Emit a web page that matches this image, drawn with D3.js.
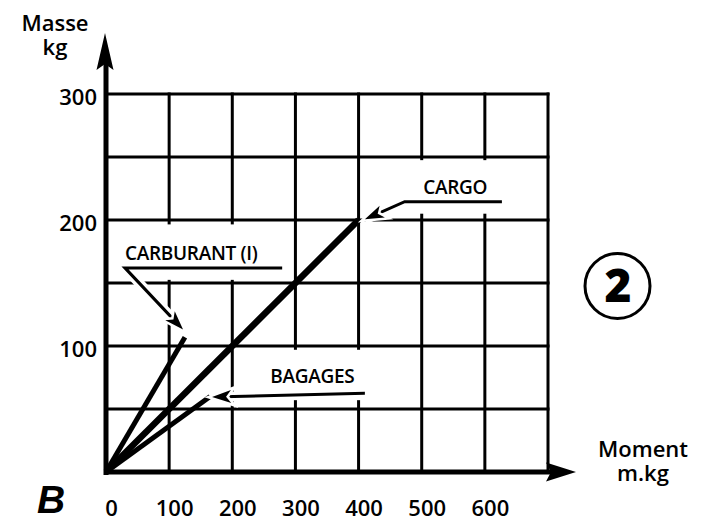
<!DOCTYPE html>
<html>
<head>
<meta charset="utf-8">
<script src="https://cdn.jsdelivr.net/npm/d3@7"></script>
<style>
  html, body { margin: 0; padding: 0; background: #fff; }
  svg { display: block; }
  text { font-family: "Open Sans", "DejaVu Sans", sans-serif; font-weight: 600; fill: #000; }
</style>
</head>
<body>
<svg id="chart" width="715" height="522"></svg>
<script>
// Loading chart: moment (m.kg) against mass (kg) for each load station
const stations = ["CARBURANT (I)", "CARGO", "BAGAGES"];
const stationMoment = [125, 400, 165];   // m.kg at the end of each line
const stationMass = [107, 200, 60];      // kg at the end of each line

const xTickValues = [0, 100, 200, 300, 400, 500, 600];
const yTickValues = [100, 200, 300];
const xGridValues = [100, 200, 300, 400, 500, 600, 700];
const yGridValues = [50, 100, 150, 200, 250, 300];

const svg = d3.select("#chart");

const x = d3.scaleLinear().domain([0, 700]).range([106, 548]);
const y = d3.scaleLinear().domain([0, 300]).range([472, 94]);

// ---- grid ----
const grid = svg.append("g").attr("stroke", "#000").attr("stroke-width", 3);
grid.selectAll("line.v").data(xGridValues).join("line")
  .attr("class", "v")
  .attr("x1", d => x(d)).attr("x2", d => x(d))
  .attr("y1", y(300) - 1.5).attr("y2", y(0));
grid.selectAll("line.h").data(yGridValues).join("line")
  .attr("class", "h")
  .attr("x1", x(0)).attr("x2", x(700) + 1.5)
  .attr("y1", d => y(d)).attr("y2", d => y(d));

// white panels behind the station labels (in data units)
const panels = [
  { x0: 14, x1: 292, y0: 152.5, y1: 196.5 },   // CARBURANT
  { x0: 466, x1: 640, y0: 205, y1: 247.5 },    // CARGO
  { x0: 212, x1: 418, y0: 57, y1: 97 }         // BAGAGES
];
svg.append("g").selectAll("rect").data(panels).join("rect")
  .attr("x", d => x(d.x0)).attr("width", d => x(d.x1) - x(d.x0))
  .attr("y", d => y(d.y1)).attr("height", d => y(d.y0) - y(d.y1))
  .attr("fill", "#fff");

// ---- axes with arrows ----
const axes = svg.append("g");
axes.append("line")
  .attr("x1", x(0)).attr("x2", x(0))
  .attr("y1", y(0) + 3).attr("y2", 60)
  .attr("stroke", "#000").attr("stroke-width", 5);
axes.append("line")
  .attr("x1", x(0) - 2).attr("x2", 562)
  .attr("y1", y(0)).attr("y2", y(0))
  .attr("stroke", "#000").attr("stroke-width", 5);

function arrowHead(g, tipX, tipY, fromX, fromY, len, half, notch, halo) {
  const a = Math.atan2(tipY - fromY, tipX - fromX);
  const c = Math.cos(a), s = Math.sin(a);
  const pt = (l, w) => [tipX - c * l - s * w, tipY - s * l + c * w];
  const pts = [[tipX, tipY], pt(len, half), pt(len - notch, 0), pt(len, -half)];
  const p = g.append("path")
    .attr("d", "M" + pts.map(q => q.join(",")).join("L") + "Z")
    .attr("fill", "#000");
  if (halo) p.attr("stroke", "#fff").attr("stroke-width", halo).attr("paint-order", "stroke");
  return p;
}
arrowHead(axes, x(0) - 1, 33, x(0) - 1, 100, 37, 8.5, 6, 0);
arrowHead(axes, 576, y(0), 500, y(0), 30, 9.5, 5, 0);

// ---- station lines ----
const lineWidths = [5, 6.5, 5];
svg.append("g").selectAll("line").data(stations).join("line")
  .attr("x1", x(0)).attr("y1", y(0))
  .attr("x2", (d, i) => x(stationMoment[i]))
  .attr("y2", (d, i) => y(stationMass[i]))
  .attr("stroke", "#000")
  .attr("stroke-width", (d, i) => lineWidths[i])
  .attr("stroke-linecap", "butt");

// ---- labels with underline and leader arrow (positions in data units) ----
const callouts = [
  { text: stations[0], tx: 30, ty: 168, anchor: "start", size: 19,
    under: [[30, 162], [279, 162]], leader: [[30, 162], [122, 113]] },
  { text: stations[1], tx: 553, ty: 220.5, anchor: "middle", size: 19,
    under: [[473, 214.5], [627, 214.5]], leader: [[473, 214.5], [410, 200.5]] },
  { text: stations[2], tx: 260, ty: 71, anchor: "start", size: 19,
    under: [[410, 62.5], [168, 59.5]], leader: null }
];
const ann = svg.append("g");
callouts.forEach(c => {
  const path = d3.line().x(p => x(p[0])).y(p => y(p[1]));
  const route = c.leader ? [c.under[1], c.under[0], c.leader[1]] : c.under;
  ann.append("path").attr("d", path(route)).attr("fill", "none")
    .attr("stroke", "#fff").attr("stroke-width", 10).attr("stroke-linejoin", "round");
  ann.append("path").attr("d", path(route)).attr("fill", "none")
    .attr("stroke", "#000").attr("stroke-width", 3).attr("stroke-linejoin", "miter");
  const tip = route[route.length - 1], prev = route[route.length - 2];
  arrowHead(ann, x(tip[0]), y(tip[1]), x(prev[0]), y(prev[1]), 19, 6.5, 5, 5);
  ann.append("text")
    .attr("x", x(c.tx)).attr("y", y(c.ty))
    .attr("text-anchor", c.anchor)
    .attr("font-size", c.size)
    .attr("letter-spacing", -0.3)
    .text(c.text);
});

// ---- tick labels ----
const xAxis = svg.append("g")
  .attr("transform", `translate(5,${y(0)})`)
  .call(d3.axisBottom(x).tickValues(xTickValues).tickSize(0).tickPadding(28).tickFormat(d3.format("d")));
xAxis.select(".domain").remove();
xAxis.selectAll("text").attr("font-size", 22).attr("font-family", null).attr("fill", "#000");

const yAxis = svg.append("g")
  .attr("transform", `translate(${x(0)},3)`)
  .call(d3.axisLeft(y).tickValues(yTickValues).tickSize(0).tickPadding(9).tickFormat(d3.format("d")));
yAxis.select(".domain").remove();
yAxis.selectAll("text").attr("font-size", 22).attr("font-family", null).attr("fill", "#000");

// ---- axis titles (two lines each) ----
function twoLineTitle(cx, y0, lines, gap) {
  const t = svg.append("text").attr("text-anchor", "middle").attr("font-size", 22);
  lines.forEach((s, i) => t.append("tspan").attr("x", cx).attr("y", y0 + i * gap).text(s));
}
twoLineTitle(55, 31, ["Masse", "kg"], 24);
twoLineTitle(643, 457, ["Moment", "m.kg"], 24);

// ---- figure marks ----
svg.append("text").attr("x", 37).attr("y", 513)
  .style("font-family", "'Liberation Sans', Arial, sans-serif")
  .style("font-weight", 700).style("font-style", "italic")
  .attr("font-size", 39).text("B");

svg.append("circle").attr("cx", 617.5).attr("cy", 286).attr("r", 32.5)
  .attr("fill", "none").attr("stroke", "#000").attr("stroke-width", 3);
svg.append("text").attr("x", 618).attr("y", 302).attr("text-anchor", "middle")
  .style("font-weight", 800).attr("font-size", 46).text("2");
</script>
</body>
</html>
